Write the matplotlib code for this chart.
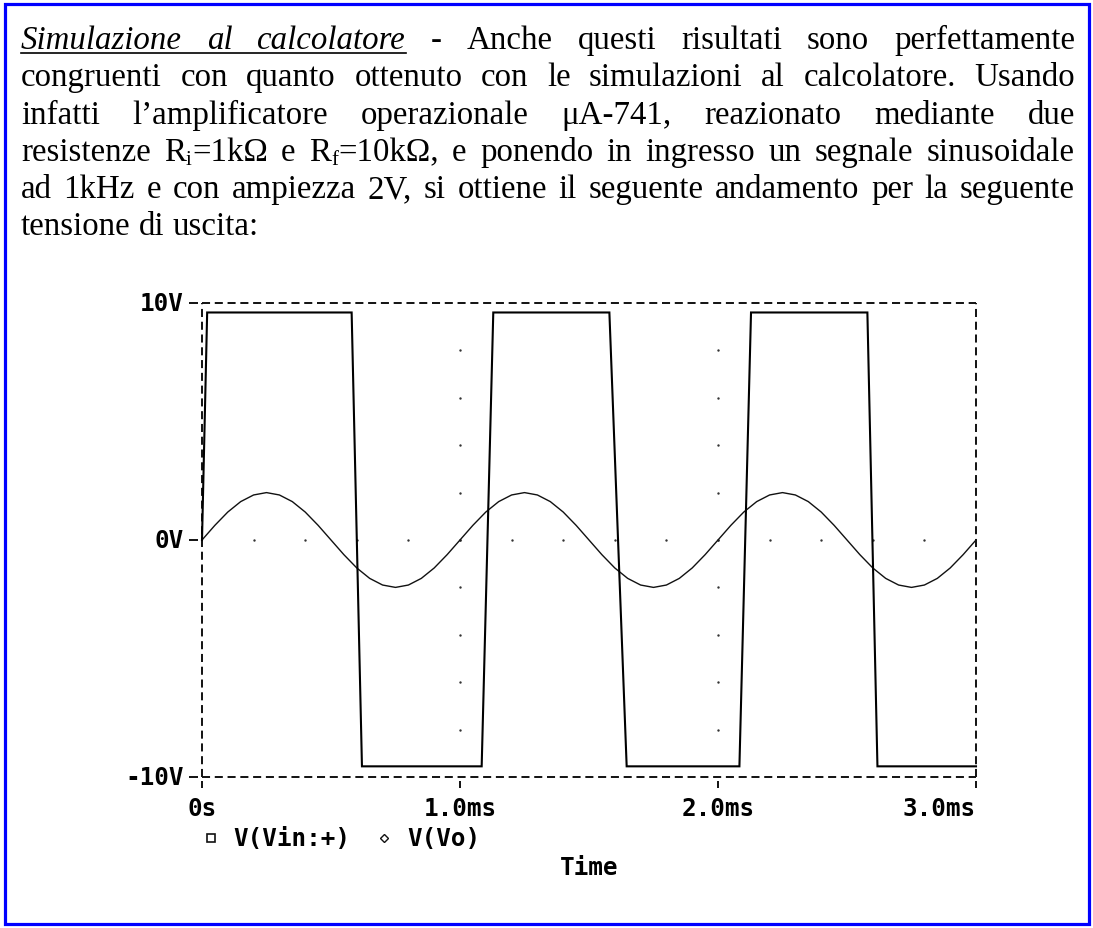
import matplotlib
matplotlib.use('Agg')
import matplotlib.pyplot as plt
import matplotlib.transforms as mtransforms
from matplotlib.patches import Rectangle
from matplotlib.lines import Line2D

plt.rcParams['lines.scale_dashes'] = False

W, H, DPI = 1093, 929, 100

# ---------------- data ----------------
# output voltage V(Vo) (ms, V)
t_out = [0.0, 0.02, 0.58, 0.62, 1.084, 1.129, 1.579, 1.646, 2.083, 2.128, 2.579, 2.618, 3.0]
v_out = [0.0, 9.6, 9.6, -9.55, -9.55, 9.6, 9.6, -9.55, -9.55, 9.6, 9.6, -9.55, -9.55]

# input voltage V(Vin:+) sampled every 0.05 ms
v_in = [0.00, 0.62, 1.18, 1.62, 1.90, 2.00, 1.90, 1.62, 1.18, 0.62,
        0.00, -0.62, -1.18, -1.62, -1.90, -2.00, -1.90, -1.62, -1.18, -0.62,
        0.00, 0.62, 1.18, 1.62, 1.90, 2.00, 1.90, 1.62, 1.18, 0.62,
        0.00, -0.62, -1.18, -1.62, -1.90, -2.00, -1.90, -1.62, -1.18, -0.62,
        0.00, 0.62, 1.18, 1.62, 1.90, 2.00, 1.90, 1.62, 1.18, 0.62,
        0.00, -0.62, -1.18, -1.62, -1.90, -2.00, -1.90, -1.62, -1.18, -0.62,
        0.00]
t_step = 0.05
t_in = [i * t_step for i in range(len(v_in))]

x_ticks = [0.0, 1.0, 2.0, 3.0]
x_tick_labels = ['0s', '1.0ms', '2.0ms', '3.0ms']
y_ticks = [-10, 0, 10]
y_tick_labels = ['-10V', '0V', '10V']
legend_labels = ['V(Vin:+)', 'V(Vo)']
x_label = 'Time'

grid_cols = [1.0, 2.0]
grid_col_y = [-8, -6, -4, -2, 0, 2, 4, 6, 8]
grid_row_x = [0.2, 0.4, 0.6, 0.8, 1.0, 1.2, 1.4, 1.6, 1.8, 2.0, 2.2, 2.4, 2.6, 2.8]

paragraph = [
    [[('Simulazione', 'iu')], [('al', 'iu')], [('calcolatore', 'iu')], [('-', 'n')],
     [('Anche', 'n')], [('questi', 'n')], [('risultati', 'n')], [('sono', 'n')],
     [('perfettamente', 'n')]],
    [[('congruenti', 'n')], [('con', 'n')], [('quanto', 'n')], [('ottenuto', 'n')],
     [('con', 'n')], [('le', 'n')], [('simulazioni', 'n')], [('al', 'n')],
     [('calcolatore.', 'n')], [('Usando', 'n')]],
    [[('infatti', 'n')], [('l\u2019amplificatore', 'n')], [('operazionale', 'n')],
     [('\u03bcA-741,', 'n')], [('reazionato', 'n')], [('mediante', 'n')], [('due', 'n')]],
    [[('resistenze', 'n')], [('R', 'n'), ('i', 's'), ('=1k\u03a9', 'n')], [('e', 'n')],
     [('R', 'n'), ('f', 's'), ('=10k\u03a9,', 'n')], [('e', 'n')], [('ponendo', 'n')],
     [('in', 'n')], [('ingresso', 'n')], [('un', 'n')], [('segnale', 'n')],
     [('sinusoidale', 'n')]],
    [[('ad', 'n')], [('1kHz', 'n')], [('e', 'n')], [('con', 'n')], [('ampiezza', 'n')],
     [('2V,', 'n')], [('si', 'n')], [('ottiene', 'n')], [('il', 'n')], [('seguente', 'n')],
     [('andamento', 'n')], [('per', 'n')], [('la', 'n')], [('seguente', 'n')]],
    [[('tensione', 'n')], [('di', 'n')], [('uscita:', 'n')]],
]
justified = [True, True, True, True, True, False]

# ---------------- figure ----------------
fig = plt.figure(figsize=(W / DPI, H / DPI), dpi=DPI)
fig.patch.set_facecolor('white')
renderer = fig.canvas.get_renderer()

# blue border
fig.patches.append(Rectangle((4.5 / W, 4.5 / H), (W - 9) / W, (H - 9) / H,
                             transform=fig.transFigure, fill=False,
                             edgecolor='#0000ff', linewidth=2.3))

SERIF = ['Liberation Serif', 'DejaVu Serif']
FS = 23.7
SUB_FS = FS * 0.64
SUB_DROP = 4.0
TXT_LEFT, TXT_RIGHT = 21.0, 1075.0
BASE0, LINE_H = 49.0, 37.3


def seg_kw(kind):
    if kind == 's':
        return dict(fontsize=SUB_FS, style='normal')
    if 'i' in kind:
        return dict(fontsize=FS, style='italic')
    return dict(fontsize=FS, style='normal')


def seg_width(s, kind):
    t = fig.text(0, 0, s, family=SERIF, **seg_kw(kind))
    w = t.get_window_extent(renderer).width
    t.remove()
    return w


for li, words in enumerate(paragraph):
    base = BASE0 + li * LINE_H
    widths = [sum(seg_width(s, k) for s, k in w) for w in words]
    if justified[li]:
        gap = (TXT_RIGHT - TXT_LEFT - sum(widths)) / (len(words) - 1)
    else:
        gap = seg_width('a a', 'n') - 2 * seg_width('a', 'n')
    x = TXT_LEFT
    ul_start = ul_end = None
    for w, wd in zip(words, widths):
        cx = x
        for s, k in w:
            y = base + (SUB_DROP if k == 's' else 0)
            fig.text(cx / W, 1 - y / H, s, family=SERIF, ha='left', va='baseline',
                     color='black', **seg_kw(k))
            cx += seg_width(s, k)
        if any('u' in k for _, k in w):
            if ul_start is None:
                ul_start = x
            ul_end = x + wd
        x += wd + gap
    if ul_start is not None:
        fig.lines.append(Line2D([ul_start / W, ul_end / W],
                                [1 - (base + 4.5) / H, 1 - (base + 4.5) / H],
                                transform=fig.transFigure, color='black', linewidth=1.2))

# ---------------- chart ----------------
AX_L, AX_R, AX_T, AX_B = 202.0, 976.0, 304.0, 778.0
ax = fig.add_axes([AX_L / W, 1 - AX_B / H, (AX_R - AX_L) / W, (AX_B - AX_T) / H])
ax.set_xlim(x_ticks[0], x_ticks[-1])
ax.set_ylim(y_ticks[0], y_ticks[-1])
ax.axis('off')

x0, x1 = ax.get_xlim()
y0, y1 = ax.get_ylim()

dash = (0, (5.8, 3.4))
FRAME_LW = 1.4
for xs, ys in [([x0, x1], [y1, y1]), ([x0, x1], [y0, y0]),
               ([x0, x0], [y0, y1]), ([x1, x1], [y0, y1])]:
    ax.plot(xs, ys, color='#111111', linewidth=FRAME_LW, linestyle=dash,
            clip_on=False, solid_capstyle='butt', dash_capstyle='butt')


def off(dx, dy):
    return mtransforms.offset_copy(ax.transData, fig=fig, x=dx, y=dy, units='dots')


LABEL_KW = dict(fontsize=17.5, fontweight='bold', family='DejaVu Sans Mono',
                color='black', annotation_clip=False)

# y ticks (to the left) and labels
for yv, lab in zip(y_ticks, y_tick_labels):
    ax.plot([x0], [yv], marker=0, markersize=9 * 0.72, markeredgewidth=1.4,
            color='#111111', clip_on=False, transform=off(-4.5, 0), linestyle='none')
    ax.annotate(lab, xy=(x0, yv), xytext=(-18, 0), textcoords='offset pixels',
                ha='right', va='center', **LABEL_KW)

# x ticks (downwards) and labels
for i, (xv, lab) in enumerate(zip(x_ticks, x_tick_labels)):
    ax.plot([xv], [y0], marker=3, markersize=7 * 0.72, markeredgewidth=1.4,
            color='#111111', clip_on=False, transform=off(0, -3.5), linestyle='none')
    ha = 'right' if i == len(x_ticks) - 1 else 'center'
    ax.annotate(lab, xy=(xv, y0), xytext=(0, -31), textcoords='offset pixels',
                ha=ha, va='center', **LABEL_KW)

# dotted grid
for xc in grid_cols:
    ax.scatter([xc] * len(grid_col_y), grid_col_y, s=3, color='#333333',
               linewidths=0, zorder=1)
ax.scatter(grid_row_x, [0] * len(grid_row_x), s=3, color='#333333', linewidths=0, zorder=1)

# traces
ax.plot(t_in, v_in, color='#111111', linewidth=1.0, zorder=3, clip_on=False)
ax.plot(t_out, v_out, color='#000000', linewidth=1.5, zorder=3, clip_on=False,
        solid_joinstyle='miter')

# legend
ax.plot([x0], [y0], marker='s', markersize=8 * 0.72, markerfacecolor='white',
        markeredgecolor='#111111', markeredgewidth=1.2, linestyle='none',
        transform=off(9, -61), clip_on=False)
ax.annotate(legend_labels[0], xy=(x0, y0), xytext=(31, -61), textcoords='offset pixels',
            ha='left', va='center', **LABEL_KW)
ax.plot([x0], [y0], marker='D', markersize=6 * 0.72, markerfacecolor='white',
        markeredgecolor='#111111', markeredgewidth=1.0, linestyle='none',
        transform=off(182, -61), clip_on=False)
ax.annotate(legend_labels[1], xy=(x0, y0), xytext=(205, -61), textcoords='offset pixels',
            ha='left', va='center', **LABEL_KW)

ax.annotate(x_label, xy=((x0 + x1) / 2, y0), xytext=(0, -90), textcoords='offset pixels',
            ha='center', va='center', **LABEL_KW)

fig.savefig('out.png', dpi=DPI, facecolor='white')
